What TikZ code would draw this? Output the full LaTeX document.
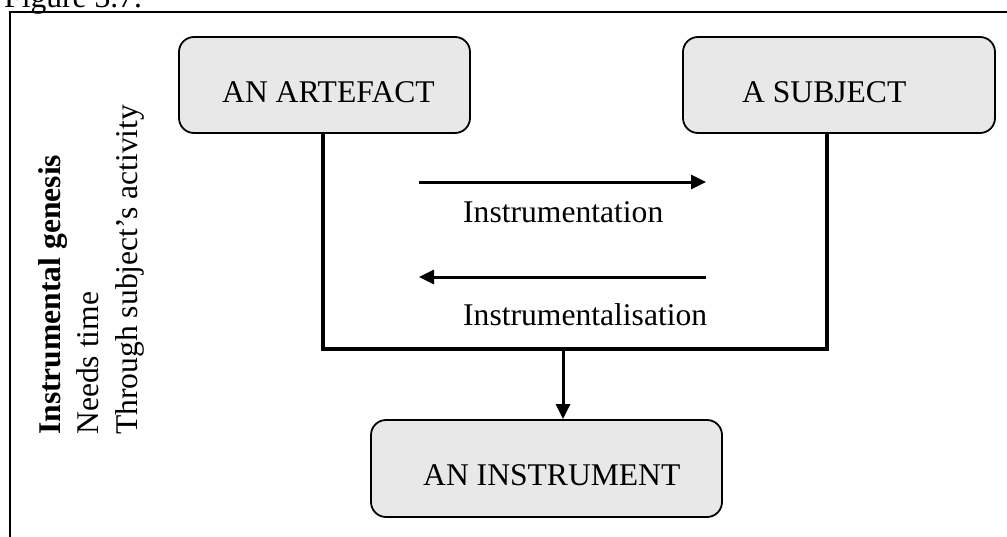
\documentclass[tikz,border=0pt]{standalone}
\usepackage{fontspec}
\setmainfont{Liberation Serif}
\usetikzlibrary{arrows.meta}
\definecolor{boxgray}{HTML}{E8E8E8}
\begin{document}
\begin{tikzpicture}[x=1pt,y=-1pt,
  txt/.style={font=\fontsize{31.6}{38}\selectfont, inner sep=0pt},
  box/.style={draw=black, line width=1.8pt, fill=boxgray, rounded corners=15pt, inner sep=0pt},
  link/.style={line width=3.5pt},
  flow/.style={line width=3pt, -{Triangle[length=15pt,width=14pt]}}]
\useasboundingbox (0,0) rectangle (1007,536);
\begin{scope}
\clip (0,0) rectangle (1007,536);
% caption, cut off at the top edge
\node[txt, anchor=base west] (fig) at (4,7) {Figure 3.7.};
% frame around the figure
\draw[line width=2pt] (1030,12) -- (10,12) -- (10,560);
\end{scope}

% the three boxes
\node[box, minimum width=291pt, minimum height=96pt] (artefact) at (324.5,85) {};
\node[box, minimum width=312pt, minimum height=96pt] (subject) at (839,85) {};
\node[box, minimum width=351pt, minimum height=97pt] (instrument) at (546.5,468.5) {};
\node[txt, anchor=base west] (tartefact) at (222,102) {AN ARTEFACT};
\node[txt, anchor=base west] (tsubject) at (742,102) {A SUBJECT};
\node[txt, anchor=base west] (tinstrument) at (423,485) {AN INSTRUMENT};

% joining lines and the arrow to the instrument
\coordinate (la) at (323,349);
\coordinate (ls) at (827,349);
\coordinate (mid) at (563,349);
\draw[link, line cap=rect] (artefact.south -| la) -- (la) -- (ls) -- (subject.south -| ls);
\draw[flow] (mid) -- (instrument.north -| mid);

% the two processes
\coordinate (a1) at (419,182);
\coordinate (a2) at (706,182);
\coordinate (b1) at (706,277);
\coordinate (b2) at (419,277);
\draw[flow] (a1) -- (a2);
\draw[flow] (b1) -- (b2);
\node[txt, anchor=base west] (instrumentation) at (463,222) {Instrumentation};
\node[txt, anchor=base west] (instrumentalisation) at (463,325) {Instrumentalisation};

% side notes, written upwards
\node[txt, rotate=90, anchor=base west] (genesis) at (60,435) {\bfseries Instrumental genesis};
\node[txt, rotate=90, anchor=base west] (needs) at (98,435) {Needs time};
\node[txt, rotate=90, anchor=base west] (through) at (137,435) {Through subject’s activity};
\end{tikzpicture}
\end{document}
